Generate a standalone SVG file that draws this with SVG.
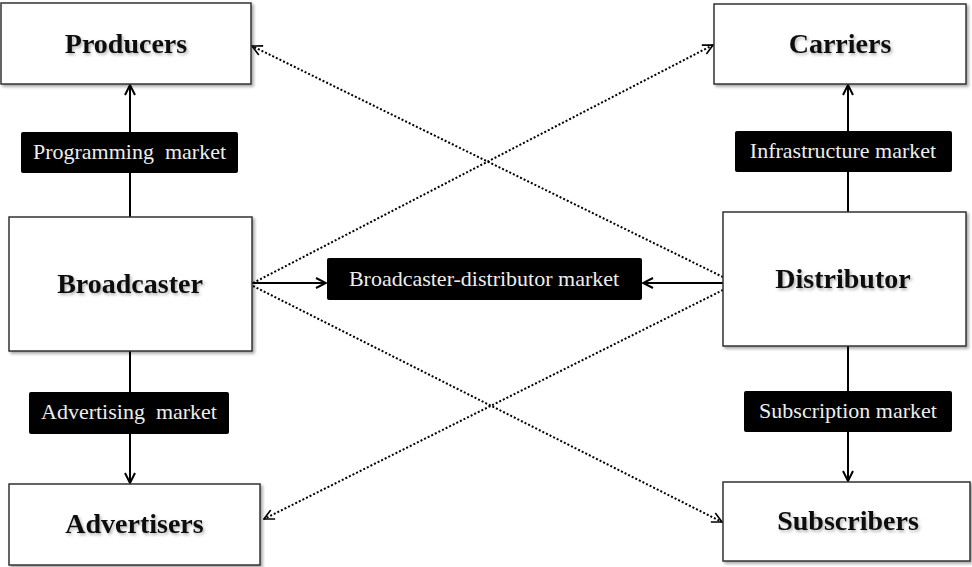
<svg xmlns="http://www.w3.org/2000/svg" width="972" height="567" viewBox="0 0 972 567">
<defs>
<filter id="boxShadow" x="-5%" y="-5%" width="115%" height="120%">
<feDropShadow dx="2" dy="2" stdDeviation="1.5" flood-color="#000" flood-opacity="0.35"/>
</filter>
<filter id="textShadow" x="-10%" y="-20%" width="125%" height="150%">
<feDropShadow dx="1.5" dy="2" stdDeviation="1.5" flood-color="#000" flood-opacity="0.3"/>
</filter>
<marker id="arrow" viewBox="0 0 12 12" refX="11" refY="6" markerWidth="12" markerHeight="12" markerUnits="userSpaceOnUse" orient="auto">
<path d="M1,1 L11,6 L1,11" fill="none" stroke="#000" stroke-width="2"/>
</marker>
<marker id="arrowDot" viewBox="0 0 12 12" refX="11" refY="6" markerWidth="12" markerHeight="12" markerUnits="userSpaceOnUse" orient="auto">
<path d="M1,1 L11,6 L1,11" fill="none" stroke="#000" stroke-width="1.6"/>
</marker>
</defs>
<style>
.box{fill:#fff;stroke:#333;stroke-width:1.5;filter:url(#boxShadow)}
.title{font-family:"Liberation Serif","Times New Roman",serif;font-weight:bold;font-size:28px;fill:#111;text-anchor:middle;filter:url(#textShadow)}
.lbl{fill:#000}
.lbltxt{font-family:"Liberation Serif","Times New Roman",serif;font-size:22px;fill:#eee;text-anchor:middle;white-space:pre}
.solid{stroke:#000;stroke-width:2;fill:none}
.dot{stroke:#000;stroke-width:2;stroke-dasharray:2 2;fill:none}
</style>
<rect width="972" height="567" fill="#fff"/>
<g id="connectors">
<line class="solid" x1="130" y1="217" x2="130" y2="85" marker-end="url(#arrow)"/>
<line class="solid" x1="130" y1="351" x2="130" y2="483" marker-end="url(#arrow)"/>
<line class="solid" x1="848" y1="212" x2="848" y2="85" marker-end="url(#arrow)"/>
<line class="solid" x1="848" y1="346" x2="848" y2="481" marker-end="url(#arrow)"/>
<line class="solid" x1="252" y1="283" x2="326" y2="283" marker-end="url(#arrow)"/>
<line class="solid" x1="723" y1="283" x2="643" y2="283" marker-end="url(#arrow)"/>
<line class="dot" x1="723" y1="277" x2="252" y2="46" marker-end="url(#arrowDot)"/>
<line class="dot" x1="253" y1="283" x2="713" y2="45" marker-end="url(#arrowDot)"/>
<line class="dot" x1="253" y1="286" x2="722" y2="522" marker-end="url(#arrowDot)"/>
<line class="dot" x1="723" y1="290" x2="264" y2="519" marker-end="url(#arrowDot)"/>
</g>
<g id="label-programming">
<rect class="lbl" x="21" y="132" width="217" height="41" rx="2"/>
<text class="lbltxt" x="129.5" y="159" xml:space="preserve">Programming  market</text>
</g>
<g id="label-advertising">
<rect class="lbl" x="29" y="392" width="200" height="42" rx="2"/>
<text class="lbltxt" x="129" y="419" xml:space="preserve">Advertising  market</text>
</g>
<g id="label-infrastructure">
<rect class="lbl" x="735" y="131" width="217" height="41" rx="2"/>
<text class="lbltxt" x="843" y="158">Infrastructure market</text>
</g>
<g id="label-subscription">
<rect class="lbl" x="744" y="391" width="208" height="41" rx="2"/>
<text class="lbltxt" x="848" y="418">Subscription market</text>
</g>
<g id="label-broadcaster-distributor">
<rect class="lbl" x="327" y="258" width="315" height="42" rx="2"/>
<text class="lbltxt" x="484" y="286">Broadcaster-distributor market</text>
</g>
<g id="producers">
<rect class="box" x="1" y="3" width="250" height="81"/>
<text class="title" x="126" y="53">Producers</text>
</g>
<g id="broadcaster">
<rect class="box" x="9" y="217" width="243" height="134"/>
<text class="title" x="130" y="293">Broadcaster</text>
</g>
<g id="advertisers">
<rect class="box" x="9" y="484" width="251" height="81"/>
<text class="title" x="134.5" y="533">Advertisers</text>
</g>
<g id="carriers">
<rect class="box" x="714" y="4" width="252" height="80"/>
<text class="title" x="840" y="53">Carriers</text>
</g>
<g id="distributor">
<rect class="box" x="723" y="212" width="243" height="134"/>
<text class="title" x="843" y="288">Distributor</text>
</g>
<g id="subscribers">
<rect class="box" x="723" y="482" width="247" height="79"/>
<text class="title" x="848" y="530">Subscribers</text>
</g>
</svg>
